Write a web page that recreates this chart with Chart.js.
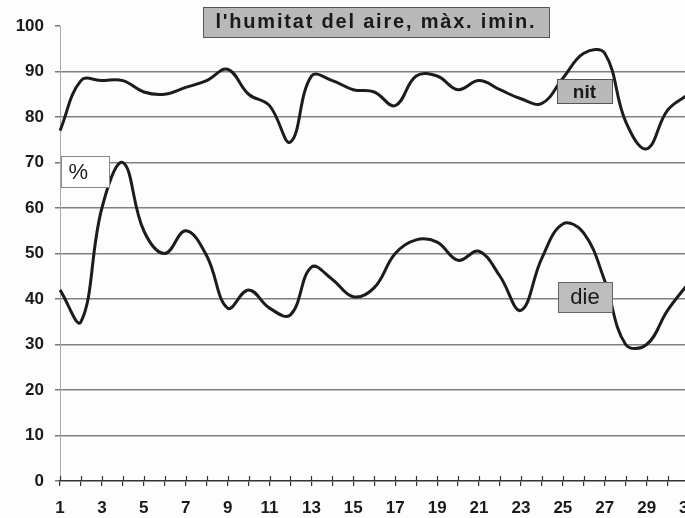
<!DOCTYPE html>
<html>
<head>
<meta charset="utf-8">
<script src="https://cdn.jsdelivr.net/npm/chart.js@4.4.0/dist/chart.umd.min.js"></script>
<style>
  html, body { margin: 0; padding: 0; background: #fdfdfd; overflow: hidden; width: 685px; height: 518px; }
  canvas { display: block; }
</style>
</head>
<body>
<canvas id="c" width="710" height="518"></canvas>
<script>
// ---- data ----
const days = ["1","2","3","4","5","6","7","8","9","10","11","12","13","14","15","16","17","18","19","20","21","22","23","24","25","26","27","28","29","30","31"];
const nit = [77, 88, 88, 88, 85.5, 85, 86.5, 88, 90.5, 85, 82.5, 74.5, 89, 88, 86, 85.5, 82.5, 89, 89, 86, 88, 86, 84, 83, 88.5, 94, 94, 79, 73, 81.5, 85];
const die = [42, 35, 60, 70, 55, 50, 55, 49.5, 38, 42, 38, 36.5, 47, 44.3, 40.5, 42.5, 50, 53, 52.5, 48.5, 50.5, 45, 37.5, 49, 56.5, 54.5, 44, 30, 30, 37.5, 43.5];
const yTicks = [0, 10, 20, 30, 40, 50, 60, 70, 80, 90, 100];
const titleText = "l'humitat del aire, màx. imin.";
const nitLabel = "nit";
const dieLabel = "die";
const unitLabel = "%";

// ---- label boxes (anchored in data coordinates: day, value) ----
const FONT = '"Liberation Sans", Arial, sans-serif';
const boxes = [
  { text: titleText, day: 16.08, value: 100.9, w: 346, h: 30, fill: '#b9b9b9', stroke: '#555', font: 'bold 20px ' + FONT, spacing: '1.8px', align: 'center' },
  { text: nitLabel,  day: 26.03, value: 85.65, w: 55, h: 24, fill: '#b9b9b9', stroke: '#555', font: 'bold 19px ' + FONT, spacing: '0px', align: 'center' },
  { text: dieLabel,  day: 26.06, value: 40.5, w: 54, h: 30, fill: '#bdbdbd', stroke: '#666', font: '22px ' + FONT, spacing: '0px', align: 'center' },
  { text: unitLabel, day: 2.19, value: 68.0, w: 48, h: 31, fill: '#ffffff', stroke: '#888', font: '22px ' + FONT, spacing: '0px', align: 'left' }
];

const boxPlugin = {
  id: 'boxLabels',
  afterDatasetsDraw(chart) {
    const ctx = chart.ctx, xs = chart.scales.x, ys = chart.scales.y;
    boxes.forEach(b => {
      const cx = xs.getPixelForValue(b.day - 1);
      const cy = ys.getPixelForValue(b.value);
      const x0 = Math.round(cx - b.w / 2) + 0.5, y0 = Math.round(cy - b.h / 2) + 0.5;
      ctx.save();
      ctx.fillStyle = b.fill;
      ctx.fillRect(x0, y0, b.w, b.h);
      ctx.strokeStyle = b.stroke;
      ctx.lineWidth = 1;
      ctx.strokeRect(x0, y0, b.w, b.h);
      ctx.fillStyle = '#1a1a1a';
      ctx.font = b.font;
      if ('letterSpacing' in ctx) ctx.letterSpacing = b.spacing;
      ctx.textBaseline = 'middle';
      if (b.align === 'left') {
        ctx.textAlign = 'left';
        ctx.fillText(b.text, x0 + 7, cy + 1);
      } else {
        ctx.textAlign = 'center';
        ctx.fillText(b.text, cx, cy + 1);
      }
      ctx.restore();
    });
  }
};

const crossTicks = {
  id: 'crossTicks',
  afterDraw(chart) {
    const ctx = chart.ctx, xs = chart.scales.x;
    const b = chart.chartArea.bottom;
    ctx.save();
    ctx.strokeStyle = '#333';
    ctx.lineWidth = 1.2;
    for (let i = 0; i < xs.ticks.length; i++) {
      const px = Math.round(xs.getPixelForTick(i)) + 0.5;
      ctx.beginPath();
      ctx.moveTo(px, b - 5);
      ctx.lineTo(px, b);
      ctx.stroke();
    }
    ctx.restore();
  }
};

new Chart(document.getElementById('c'), {
  type: 'line',
  data: {
    labels: days,
    datasets: [
      { label: nitLabel, data: nit, borderColor: '#1c1c1c', borderWidth: 3, pointRadius: 0, tension: 0.4, fill: false },
      { label: dieLabel, data: die, borderColor: '#1c1c1c', borderWidth: 3, pointRadius: 0, tension: 0.4, fill: false }
    ]
  },
  options: {
    responsive: false,
    animation: false,
    devicePixelRatio: 1,
    layout: { padding: { top: 26, right: 0, left: 0, bottom: 0 } },
    plugins: { legend: { display: false }, title: { display: false }, tooltip: { enabled: false } },
    scales: {
      x: {
        type: 'category',
        offset: false,
        grid: { display: true, drawOnChartArea: false, drawTicks: true, tickLength: 5, color: '#333', lineWidth: 1.2 },
        border: { display: true, color: '#333', width: 1.5 },
        ticks: {
          autoSkip: false, maxRotation: 0, padding: 12,
          color: '#1a1a1a',
          font: { family: FONT, size: 17, weight: 'bold' },
          callback: (v, i) => (i % 2 === 0 ? days[i] : '')
        },
        afterFit: s => { s.height = 37; }
      },
      y: {
        min: 0, max: 100,
        afterBuildTicks: s => { s.ticks = yTicks.map(v => ({ value: v })); },
        grid: {
          color: c => (c.tick && (c.tick.value === 100 || c.tick.value === 0)) ? 'rgba(0,0,0,0)' : '#808080',
          tickColor: '#777', tickLength: 5, lineWidth: 1.5
        },
        border: { display: true, color: '#aaa', width: 1 },
        ticks: {
          padding: 11, color: '#1a1a1a',
          font: { family: FONT, size: 17, weight: 'bold' }
        },
        afterFit: s => { s.width = 60; }
      }
    }
  },
  plugins: [crossTicks, boxPlugin]
});
</script>
</body>
</html>
